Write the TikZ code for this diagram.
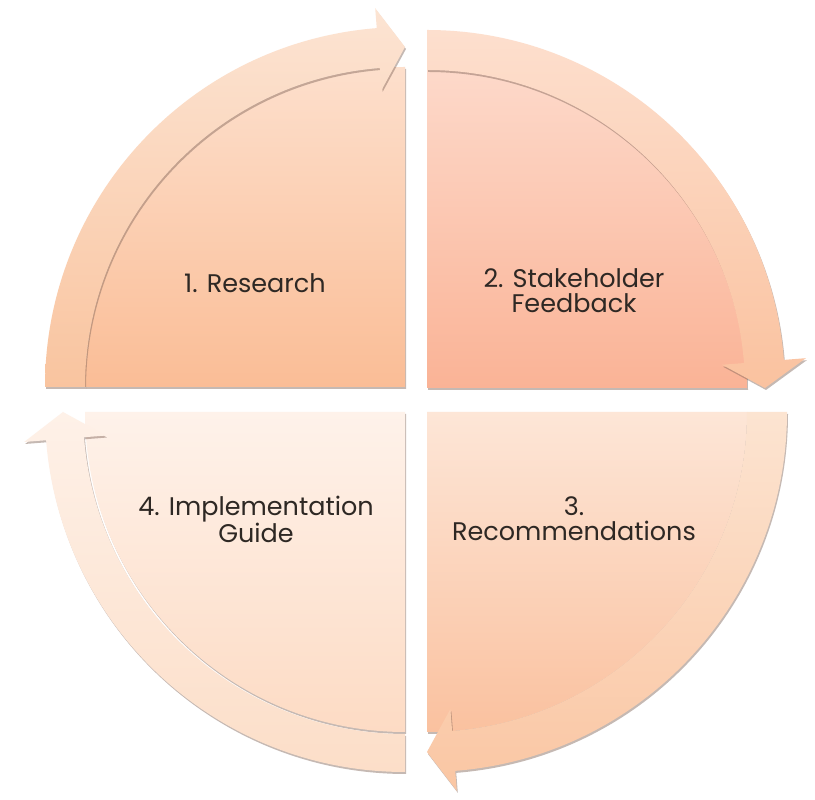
\documentclass[tikz,border=0pt]{standalone}
\usepackage{fontspec}
\setmainfont{Poppins}
\usetikzlibrary{shadows}

\definecolor{txtcol}{HTML}{2E2824}
\definecolor{shcol}{HTML}{806458}
% body colours, top and bottom
\definecolor{qatop}{HTML}{FDDFCC}
\definecolor{qabot}{HTML}{FABD96}
\definecolor{qbtop}{HTML}{FDD9CA}
\definecolor{qbbot}{HTML}{FAB396}
\definecolor{qctop}{HTML}{FDE6D7}
\definecolor{qcbot}{HTML}{FAC19F}
\definecolor{qdtop}{HTML}{FEF2EA}
\definecolor{qdbot}{HTML}{FDDBC4}
% arrow band colours
\definecolor{batop}{HTML}{FCE4D3}
\definecolor{babot}{HTML}{F9C49F}
\definecolor{bbtop}{HTML}{FDDFCE}
\definecolor{bbbot}{HTML}{FAC29F}
\definecolor{bctop}{HTML}{FCE4D1}
\definecolor{bcbot}{HTML}{FAC6A3}
\definecolor{bdtop}{HTML}{FEF1E8}
\definecolor{bdbot}{HTML}{FCDEC8}

\tikzset{
  quad/.style={drop shadow={shadow xshift=1pt, shadow yshift=-2pt, opacity=0.45, fill=shcol}},
  lbl/.style={text=txtcol, align=center, font=\fontsize{25.5}{25}\selectfont, inner sep=0pt}
}

\begin{document}
\begin{tikzpicture}[x=1pt, y=1pt]
    \useasboundingbox (0,0) rectangle (815,800);
    \fill[white] (0,0) rectangle (815,800);

    % Quadrant 1 (top left)
    \begin{scope}[shift={(405,413)}]
      \path[quad, top color=qatop, bottom color=qabot] (0,0) -- (180:320) arc[start angle=180, end angle=90, radius=320] -- cycle;
      \path[quad, top color=batop, bottom color=babot] (180:360) arc[start angle=180, end angle=94.5, radius=360] -- (94.5:380) -- (90:340) -- (94.5:298) -- (94.5:320) arc[start angle=94.5, end angle=180, radius=320] -- cycle;
    \end{scope}

    % Quadrant 2 (top right)
    \begin{scope}[shift={(427,412)}]
      \path[quad, top color=qbtop, bottom color=qbbot] (0,0) -- (90:320) arc[start angle=90, end angle=0, radius=320] -- cycle;
      \path[quad, top color=bbtop, bottom color=bbbot] (90:358) arc[start angle=90, end angle=4.5, radius=358] -- (4.5:380) -- (0:338) -- (4.5:296) -- (4.5:318) arc[start angle=4.5, end angle=90, radius=318] -- cycle;
    \end{scope}

    % Quadrant 3 (bottom right)
    \begin{scope}[shift={(427,388)}]
      \path[quad, top color=qctop, bottom color=qcbot] (0,0) -- (0:320) arc[start angle=0, end angle=-90, radius=320] -- cycle;
      \path[quad, top color=bctop, bottom color=bcbot] (0:360) arc[start angle=0, end angle=-85.5, radius=360] -- (-85.5:380) -- (-90:340) -- (-85.5:298) -- (-85.5:320) arc[start angle=-85.5, end angle=0, radius=320] -- cycle;
    \end{scope}

    % Quadrant 4 (bottom left)
    \begin{scope}[shift={(405,388)}]
      \path[quad, top color=qdtop, bottom color=qdbot] (0,0) -- (270:320) arc[start angle=270, end angle=180, radius=320] -- cycle;
      \path[quad, top color=bdtop, bottom color=bdbot] (270:360) arc[start angle=270, end angle=184.5, radius=360] -- (184.5:382) -- (180:342) -- (184.5:300) -- (184.5:322) arc[start angle=184.5, end angle=270, radius=322] -- cycle;
    \end{scope}

    % Labels
    \node[lbl] at (255,517) (research) {1. Research};
    \node[lbl] at (574,509) (feedback) {2. Stakeholder\\Feedback};
    \node[lbl] at (574,281) (recommend) {3.\\Recommendations};
    \node[lbl] at (256,281) (guide) {4. Implementation\\Guide};

\end{tikzpicture}
\end{document}
